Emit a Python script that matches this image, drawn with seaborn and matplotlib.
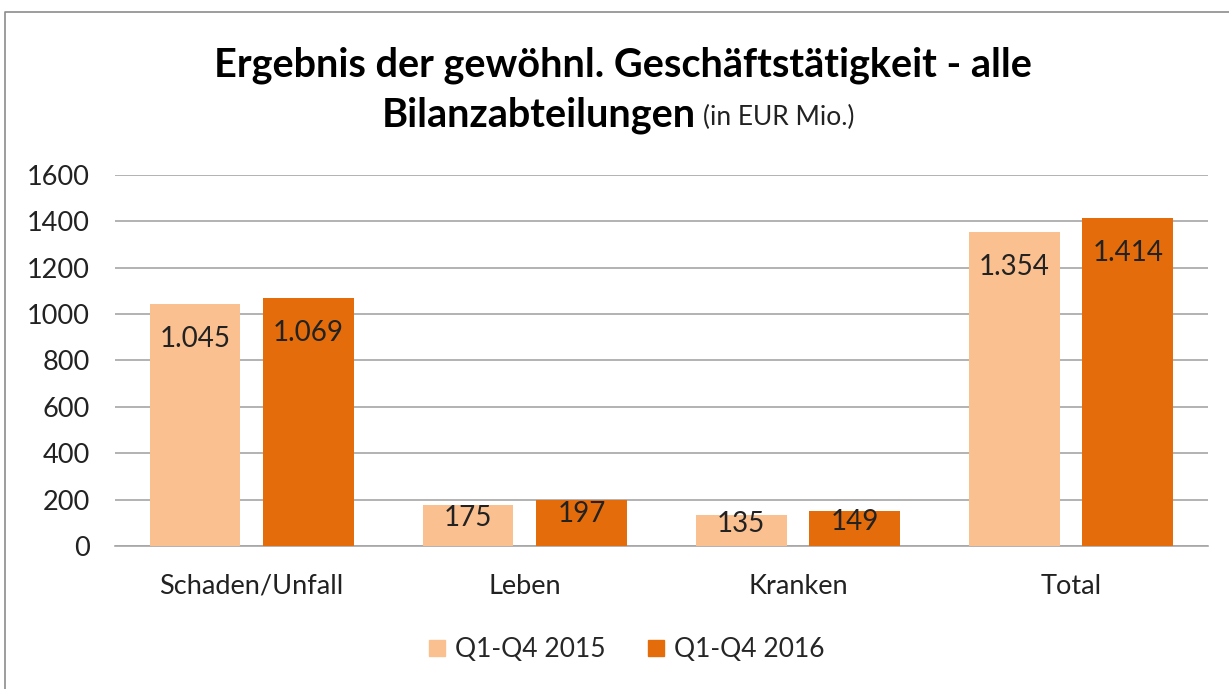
import matplotlib
matplotlib.use("Agg")
import matplotlib.pyplot as plt
import seaborn as sns
import pandas as pd
from matplotlib.patches import Rectangle
from matplotlib.lines import Line2D

# Data
categories = ["Schaden/Unfall", "Leben", "Kranken", "Total"]
series_names = ["Q1-Q4 2015", "Q1-Q4 2016"]
values_2015 = [1045, 175, 135, 1354]
values_2016 = [1069, 197, 149, 1414]
labels_2015 = ["1.045", "175", "135", "1.354"]
labels_2016 = ["1.069", "197", "149", "1.414"]
y_ticks = [0, 200, 400, 600, 800, 1000, 1200, 1400, 1600]

colors = ["#FAC090", "#E46C0A"]

df = pd.DataFrame({
    "Kategorie": categories * 2,
    "Zeitraum": [series_names[0]] * 4 + [series_names[1]] * 4,
    "Wert": values_2015 + values_2016,
})

sns.set_style("white")
plt.rcParams["font.family"] = ["Lato", "DejaVu Sans"]

fig = plt.figure(figsize=(12.29, 6.89), dpi=100)
ax = fig.add_axes([0.0936, 0.2076, 0.889, 0.5385])

sns.barplot(data=df, x="Kategorie", y="Wert", hue="Zeitraum",
            palette=colors, saturation=1, width=0.83, gap=0.2,
            linewidth=0, ax=ax, zorder=3)

ax.set_ylim(0, 1600)
ax.set_yticks(y_ticks)
ax.set_xlim(-0.5, 3.5)

# value labels inside the bars, near the top
px_per_unit = ax.transData.transform((0, 1))[1] - ax.transData.transform((0, 0))[1]
for cont, labs in zip(ax.containers, [labels_2015, labels_2016]):
    for bar, lab in zip(cont, labs):
        h = bar.get_height()
        h_px = h * px_per_unit
        off = -35 if h_px > 100 else -0.3 * h_px
        ax.annotate(lab, xy=(bar.get_x() + bar.get_width() / 2, h),
                    xytext=(0, off), textcoords="offset pixels",
                    ha="center", va="center", fontsize=20, color="#222222",
                    zorder=5)

ax.yaxis.grid(True, color="#A6A6A6", linewidth=1.2, zorder=0)
ax.set_axisbelow(True)
ax.set_xlabel("")
ax.set_ylabel("")
ax.tick_params(axis="both", labelsize=19.5, colors="#222222", length=0)
ax.tick_params(axis="x", pad=20)
ax.tick_params(axis="y", pad=18)
for s in ["top", "right", "left"]:
    ax.spines[s].set_visible(False)
ax.spines["bottom"].set_color("#A6A6A6")
ax.spines["bottom"].set_linewidth(1.2)

# legend
ax.legend_.remove()
handles = [Rectangle((0, 0), 1, 1, color=c) for c in colors]
fig.legend(handles, series_names, loc="center", bbox_to_anchor=(0.51, 0.057),
           ncol=2, frameon=False, fontsize=19, handlelength=0.6, handleheight=0.6,
           handletextpad=0.4, columnspacing=1.6)

# title
fig.text(0.507, 0.905, "Ergebnis der gewöhnl. Geschäftstätigkeit - alle",
         ha="center", va="center", fontsize=28.5, fontweight="bold", color="#000000")
fig.text(0.566, 0.833, "Bilanzabteilungen", ha="right", va="center",
         fontsize=28.5, fontweight="bold", color="#000000")
fig.text(0.572, 0.829, "(in EUR Mio.)", ha="left", va="center",
         fontsize=19, color="#222222")

# outer frame (only top and left edges are visible in the crop)
fig.lines.append(Line2D([0.004, 0.004, 1.0], [0.0, 0.982, 0.982],
                        transform=fig.transFigure, color="#8C8C8C", linewidth=1.2))

fig.savefig("out.png", dpi=100)
